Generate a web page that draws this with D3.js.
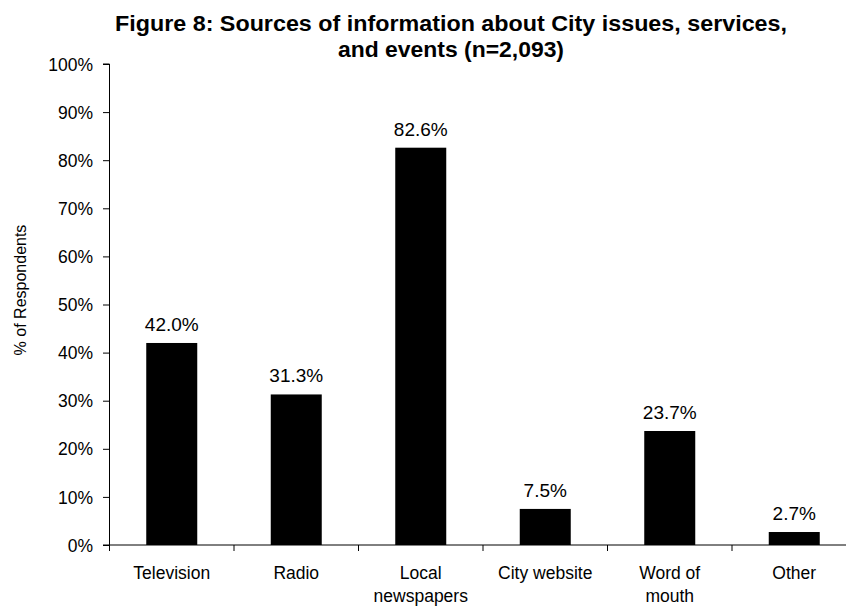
<!DOCTYPE html>
<html>
<head>
<meta charset="utf-8">
<script src="https://cdn.jsdelivr.net/npm/d3@7"></script>
<style>
  body { margin: 0; background: #fff; }
  svg { display: block; font-family: "Liberation Sans", Arial, sans-serif; }
</style>
</head>
<body>
<svg id="chart" width="846" height="609"></svg>
<script>
// Survey responses: share of respondents using each information source
const categories = ["Television", "Radio", "Local\nnewspapers", "City website", "Word of\nmouth", "Other"];
const values = [42.0, 31.3, 82.6, 7.5, 23.7, 2.7];
const yTicks = [0, 10, 20, 30, 40, 50, 60, 70, 80, 90, 100];
const titleLines = ["Figure 8: Sources of information about City issues, services,", "and events (n=2,093)"];
const yLabel = "% of Respondents";

const svg = d3.select("#chart");
const plotLeft = 109.5, plotTop = 64, plotBottom = 545, bandW = 124.5;
const plotRight = plotLeft + bandW * categories.length;

const x = d3.scaleBand().domain(categories).range([plotLeft, plotRight]).paddingInner(0).paddingOuter(0);
const y = d3.scaleLinear().domain([0, 100]).range([plotBottom, plotTop]);
const barW = 51;

// Bars
svg.append("g").selectAll("rect").data(values).join("rect")
  .attr("x", (d, i) => x(categories[i]) + x.bandwidth() / 2 - barW / 2)
  .attr("y", d => y(d))
  .attr("width", barW)
  .attr("height", d => y(0) - y(d))
  .attr("fill", "#000");

// Value labels above bars
svg.append("g").selectAll("text").data(values).join("text")
  .attr("x", (d, i) => x(categories[i]) + x.bandwidth() / 2)
  .attr("y", d => y(d) - 12)
  .attr("text-anchor", "middle")
  .attr("font-size", 19)
  .attr("fill", "#000")
  .text(d => d.toFixed(1) + "%");

// Y axis
const yAxis = d3.axisLeft(y).tickValues(yTicks).tickSize(6.5).tickPadding(10).tickFormat(d => d + "%");
const gy = svg.append("g").attr("transform", `translate(${plotLeft},0)`).call(yAxis);
gy.select(".domain").attr("stroke", "#000").attr("d", `M-6.5,${plotTop}H0V${plotBottom}H-6.5`);
gy.selectAll(".tick line").attr("stroke", "#000");
gy.selectAll(".tick text").attr("font-size", 17.5).attr("font-family", "Liberation Sans, Arial, sans-serif").attr("fill", "#000").attr("dy", "0.35em");

// X axis with ticks on band boundaries
const gx = svg.append("g").attr("transform", `translate(0,${plotBottom})`);
gx.append("line").attr("x1", plotLeft).attr("x2", plotRight).attr("y1", 0).attr("y2", 0).attr("stroke", "#000");
gx.selectAll("line.tk").data(d3.range(categories.length + 1)).join("line")
  .attr("class", "tk")
  .attr("x1", i => plotLeft + i * x.bandwidth())
  .attr("x2", i => plotLeft + i * x.bandwidth())
  .attr("y1", 0).attr("y2", 6).attr("stroke", "#000");
gx.selectAll("text").data(categories).join("text")
  .attr("text-anchor", "middle")
  .attr("font-size", 17.5)
  .attr("fill", "#000")
  .each(function (d) {
    const t = d3.select(this);
    d.split("\n").forEach((line, k) => {
      t.append("tspan").attr("x", x(d) + x.bandwidth() / 2).attr("y", 34 + k * 23).text(line);
    });
  });

// Y axis title
svg.append("text")
  .attr("transform", "translate(26,290) rotate(-90)")
  .attr("text-anchor", "middle")
  .attr("font-size", 16)
  .attr("fill", "#000")
  .text(yLabel);

// Chart title
const titleWidths = [672, 226];
svg.append("g").selectAll("text").data(titleLines).join("text")
  .attr("x", 451)
  .attr("y", (d, i) => 31 + i * 26)
  .attr("text-anchor", "middle")
  .attr("font-size", 22.5)
  .attr("font-weight", "bold")
  .attr("fill", "#000")
  .attr("textLength", (d, i) => titleWidths[i])
  .attr("lengthAdjust", "spacingAndGlyphs")
  .text(d => d);
</script>
</body>
</html>
